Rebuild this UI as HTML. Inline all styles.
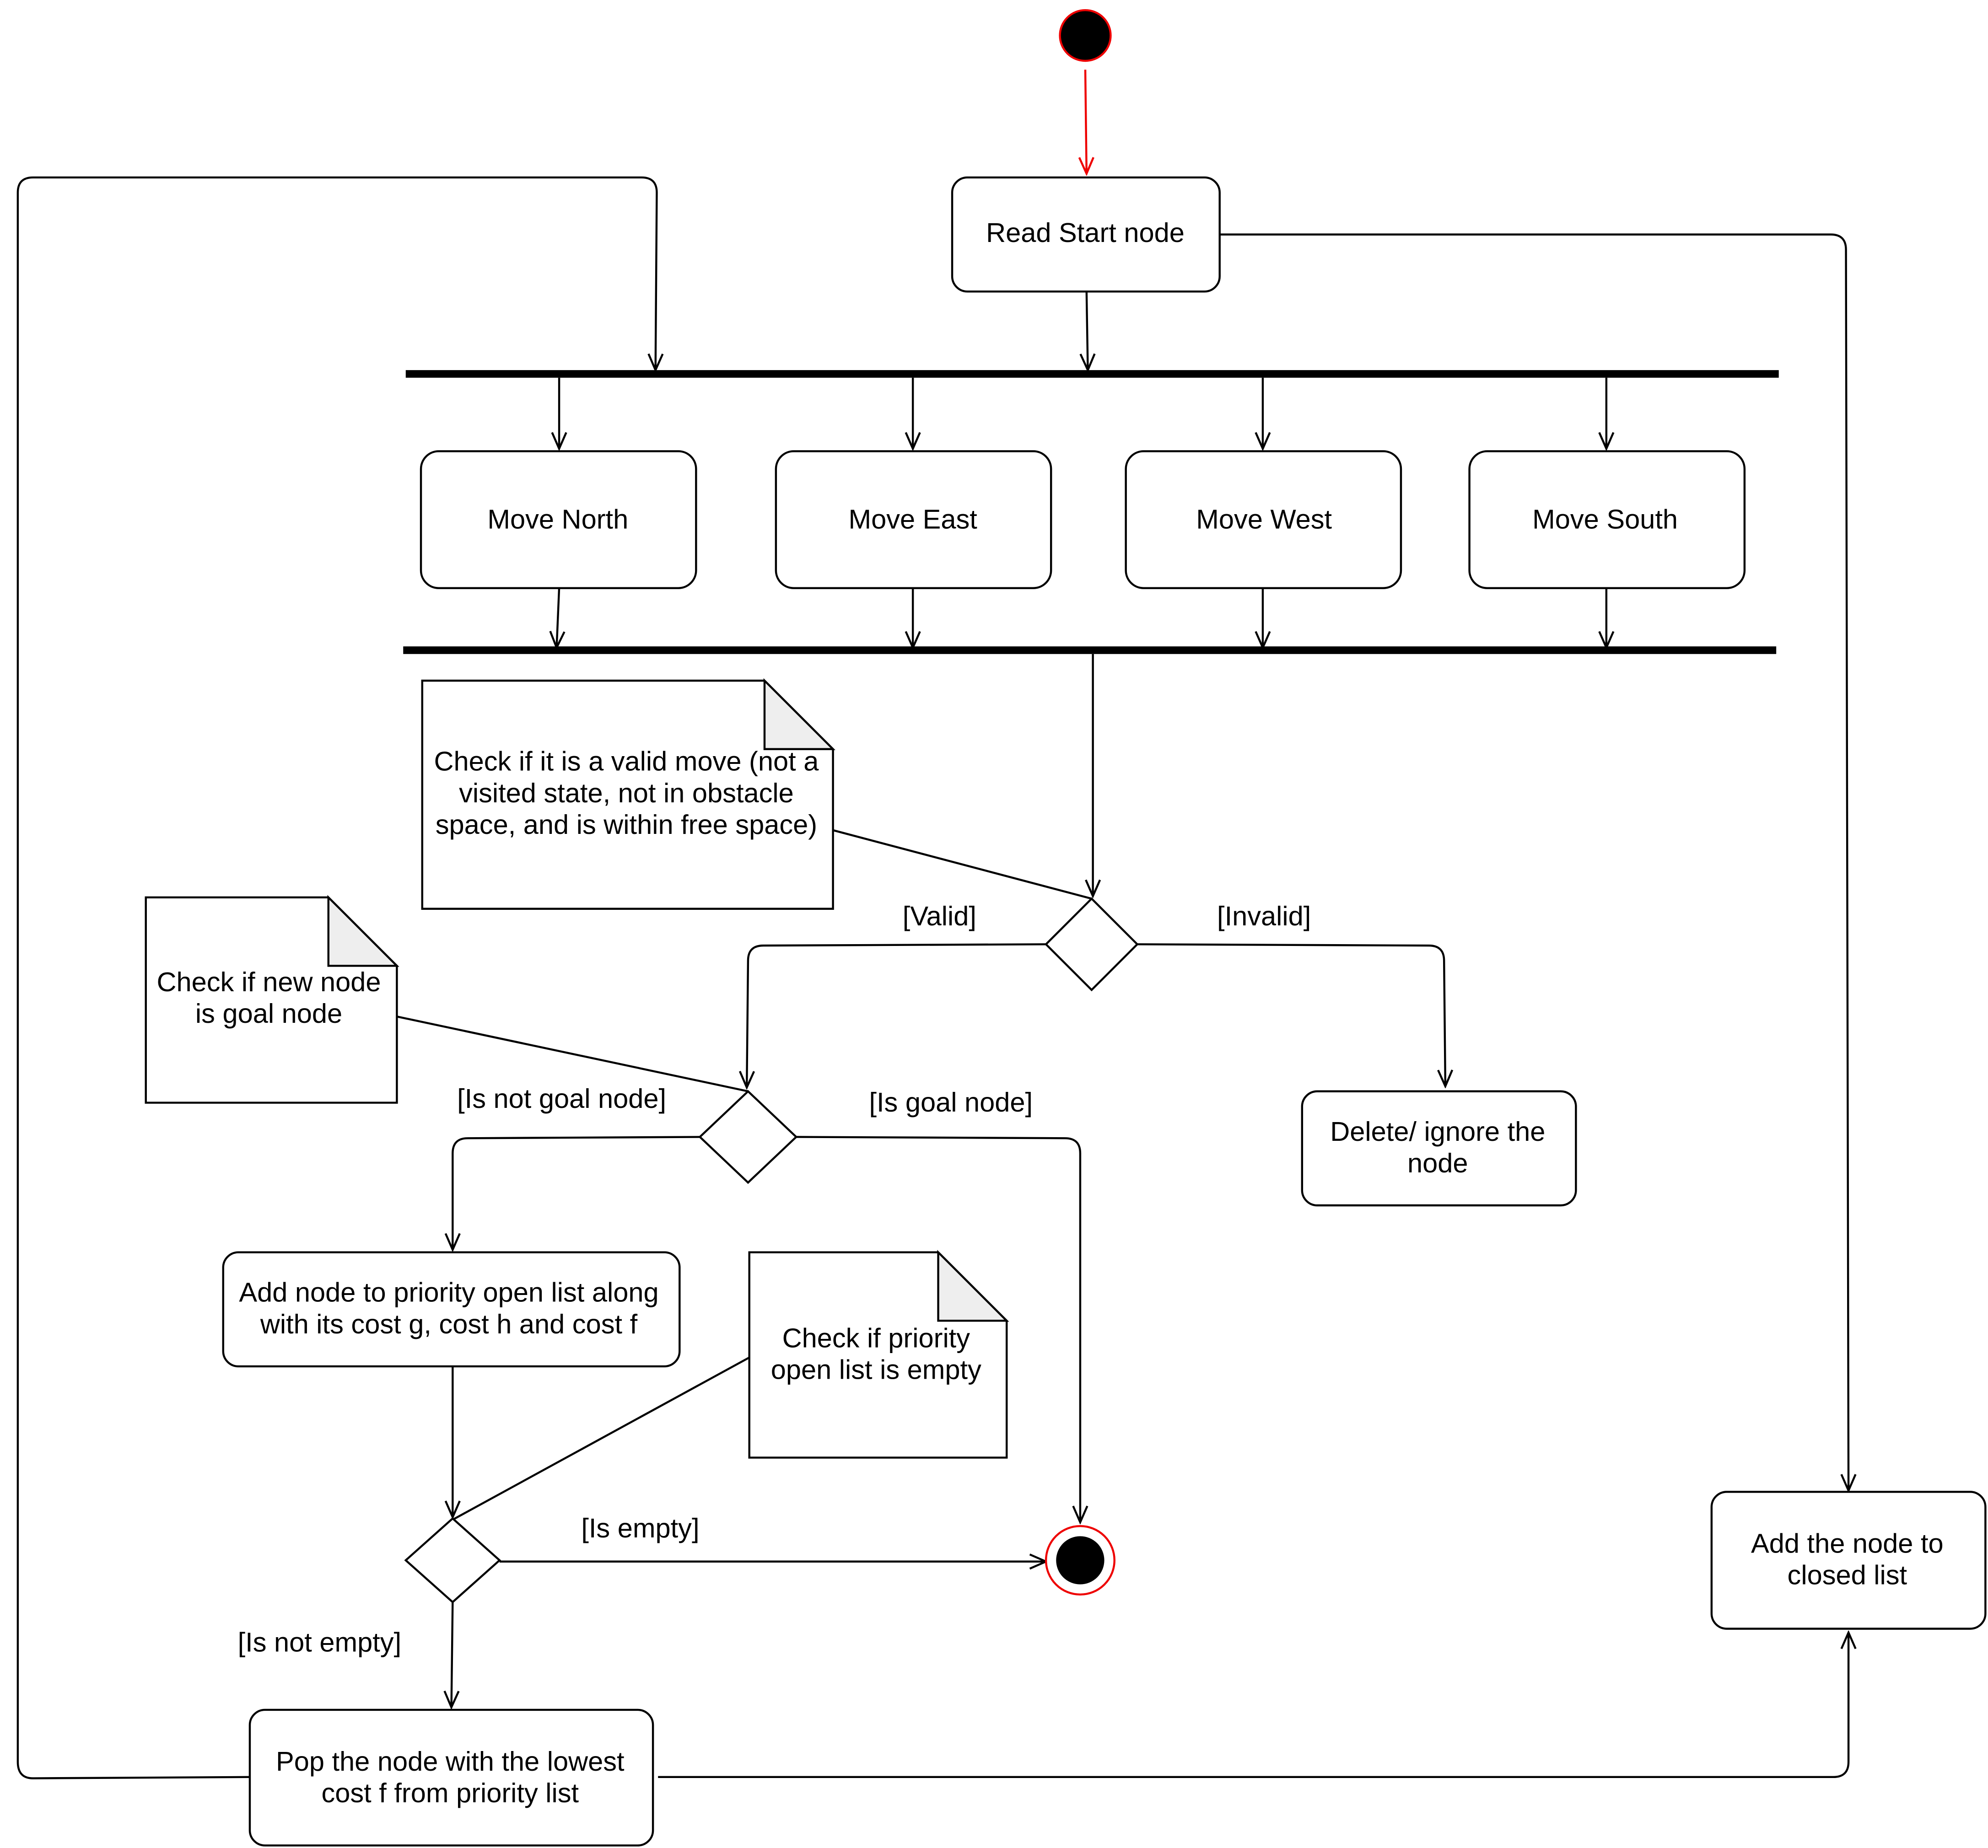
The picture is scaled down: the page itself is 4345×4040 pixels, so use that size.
<!DOCTYPE html>
<html><head><meta charset="utf-8"><style>html,body{margin:0;padding:0;background:#fff}svg{display:block}</style></head>
<body>
<svg width="4345" height="4040" viewBox="0 0 1568 1458" xmlns="http://www.w3.org/2000/svg" font-family="Liberation Sans, sans-serif" font-size="21.5" text-anchor="middle">
<defs>
<marker id="a" viewBox="0 0 20 20" refX="18" refY="10" markerWidth="16" markerHeight="16" markerUnits="userSpaceOnUse" orient="auto"><path d="M2,3 L18,10 L2,17" fill="none" stroke="#000" stroke-width="2"/></marker>
<marker id="r" viewBox="0 0 20 20" refX="18" refY="10" markerWidth="16" markerHeight="16" markerUnits="userSpaceOnUse" orient="auto"><path d="M2,3 L18,10 L2,17" fill="none" stroke="#e00" stroke-width="2"/></marker>
</defs>
<rect width="1568" height="1458" fill="#fff"/>
<g fill="none" stroke="#000" stroke-width="1.6">
<circle cx="856" cy="28" r="20" fill="#000" stroke="#e00"/>
<path d="M856,55 L857,137" stroke="#e00" marker-end="url(#r)"/>
<rect x="751" y="140" width="211" height="90" rx="12" fill="#fff"/>
<path d="M857,230 L858,292" marker-end="url(#a)"/>
<path d="M197,1402 L26,1403 Q14,1403 14,1390 L14,152 Q14,140 26,140 L506,140 Q518,140 518,152 L517,292" marker-end="url(#a)"/>
<path d="M962,185 L1444,185 Q1456,185 1456,197 L1458,1176" marker-end="url(#a)"/>
<path d="M441,298 L441,354" marker-end="url(#a)"/>
<path d="M720,298 L720,354" marker-end="url(#a)"/>
<path d="M996,298 L996,354" marker-end="url(#a)"/>
<path d="M1267,298 L1267,354" marker-end="url(#a)"/>
<rect x="332" y="356" width="217" height="108" rx="14" fill="#fff"/>
<rect x="612" y="356" width="217" height="108" rx="14" fill="#fff"/>
<rect x="888" y="356" width="217" height="108" rx="14" fill="#fff"/>
<rect x="1159" y="356" width="217" height="108" rx="14" fill="#fff"/>
<path d="M441,464 L439,511" marker-end="url(#a)"/>
<path d="M720,464 L720,511" marker-end="url(#a)"/>
<path d="M996,464 L996,511" marker-end="url(#a)"/>
<path d="M1267,464 L1267,511" marker-end="url(#a)"/>
<path d="M862,516 L862,707" marker-end="url(#a)"/>
<path d="M333,537 L603,537 L657,591 L657,717 L333,717 Z" fill="#fff"/>
<path d="M603,537 L603,591 L657,591 Z" fill="#eee"/>
<path d="M657,655 L861,709"/>
<path d="M861,709 L897,745 L861,781 L825,745 Z" fill="#fff"/>
<path d="M825,745 L602,746 Q590,746 590,758 L589,858" marker-end="url(#a)"/>
<path d="M897,745 L1127,746 Q1139,746 1139,758 L1140,857" marker-end="url(#a)"/>
<rect x="1027" y="861" width="216" height="90" rx="12" fill="#fff"/>
<path d="M115,708 L259,708 L313,762 L313,870 L115,870 Z" fill="#fff"/>
<path d="M259,708 L259,762 L313,762 Z" fill="#eee"/>
<path d="M313,802 L590,861"/>
<path d="M590,861 L628,897 L590,933 L552,897 Z" fill="#fff"/>
<path d="M552,897 L369,898 Q357,898 357,910 L357,986" marker-end="url(#a)"/>
<path d="M628,897 L840,898 Q852,898 852,910 L852,1201" marker-end="url(#a)"/>
<rect x="176" y="988" width="360" height="90" rx="12" fill="#fff"/>
<path d="M591,988 L740,988 L794,1042 L794,1150 L591,1150 Z" fill="#fff"/>
<path d="M740,988 L740,1042 L794,1042 Z" fill="#eee"/>
<path d="M357,1078 L357,1197" marker-end="url(#a)"/>
<path d="M591,1071 L357,1199"/>
<path d="M357,1198 L394,1231 L357,1264 L320,1231 Z" fill="#fff"/>
<path d="M394,1232 L825,1232" marker-end="url(#a)"/>
<circle cx="852" cy="1231" r="27" stroke="#e00" fill="#fff"/>
<circle cx="852" cy="1231" r="19" fill="#000" stroke="none"/>
<path d="M357,1264 L356,1347" marker-end="url(#a)"/>
<rect x="197" y="1349" width="318" height="107" rx="12" fill="#fff"/>
<path d="M519,1402 L1446,1402 Q1458,1402 1458,1390 L1458,1288" marker-end="url(#a)"/>
<rect x="1350" y="1177" width="216" height="108" rx="12" fill="#fff"/>
</g>
<path d="M320,295 L1403,295 M318,513 L1401,513" stroke="#000" stroke-width="6"/>
<g fill="#000">
<text x="856" y="191">Read Start node</text>
<text x="440" y="417">Move North</text>
<text x="720" y="417">Move East</text>
<text x="997" y="417">Move West</text>
<text x="1266" y="417">Move South</text>
<text x="494" y="608">Check if it is a valid move (not a</text>
<text x="494" y="633">visited state, not in obstacle</text>
<text x="494" y="658">space, and is within free space)</text>
<text x="741" y="730">[Valid]</text>
<text x="997" y="730">[Invalid]</text>
<text x="212" y="782">Check if new node</text>
<text x="212" y="807">is goal node</text>
<text x="443" y="874">[Is not goal node]</text>
<text x="750" y="877">[Is goal node]</text>
<text x="1134" y="900">Delete/ ignore the</text>
<text x="1134" y="925">node</text>
<text x="354" y="1027">Add node to priority open list along</text>
<text x="354" y="1052">with its cost g, cost h and cost f</text>
<text x="691" y="1063">Check if priority</text>
<text x="691" y="1088">open list is empty</text>
<text x="505" y="1213">[Is empty]</text>
<text x="1457" y="1225">Add the node to</text>
<text x="1457" y="1250">closed list</text>
<text x="252" y="1303">[Is not empty]</text>
<text x="355" y="1397">Pop the node with the lowest</text>
<text x="355" y="1422">cost f from priority list</text>
</g>
</svg>
</body></html>
